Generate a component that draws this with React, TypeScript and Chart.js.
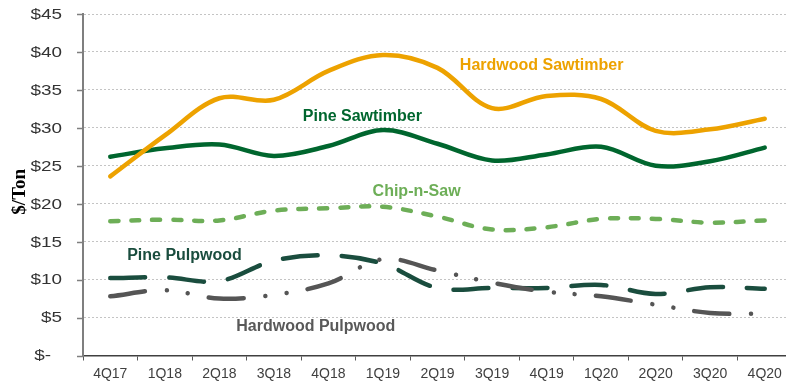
import React, { useEffect, useRef } from 'react';
import { Chart, registerables } from 'chart.js';

Chart.register(...registerables);

const categories = ['4Q17', '1Q18', '2Q18', '3Q18', '4Q18', '1Q19', '2Q19', '3Q19', '4Q19', '1Q20', '2Q20', '3Q20', '4Q20'];

const hardwoodSawtimber = [23.6, 29.0, 33.9, 33.7, 37.5, 39.6, 37.9, 32.6, 34.2, 33.8, 29.6, 29.8, 31.2];
const pineSawtimber = [26.2, 27.3, 27.8, 26.3, 27.6, 29.7, 27.9, 25.7, 26.5, 27.5, 25.0, 25.6, 27.4];
const chipNSaw = [17.7, 17.9, 17.8, 19.1, 19.4, 19.6, 18.3, 16.6, 16.9, 18.0, 18.0, 17.5, 17.8];
const pinePulpwood = [10.2, 10.3, 9.8, 12.5, 13.2, 12.1, 8.9, 8.9, 8.9, 9.3, 8.1, 9.0, 8.8];
const hardwoodPulpwood = [7.8, 8.6, 7.5, 8.0, 9.5, 12.7, 11.2, 9.6, 8.4, 7.8, 6.7, 5.6, 5.5];

const yTickValues = [0, 5, 10, 15, 20, 25, 30, 35, 40, 45];
const yTickLabels = ['$-', '$5', '$10', '$15', '$20', '$25', '$30', '$35', '$40', '$45'];
const yAxisTitle = '$/Ton';

const COLORS = {
  hardwoodSawtimber: '#EDA200',
  pineSawtimber: '#00662E',
  chipNSaw: '#6DAE57',
  pinePulpwood: '#1A4D3E',
  hardwoodPulpwood: '#555555',
};

// annotation labels, anchored in data units (category index, $ value)
const seriesLabels = [
  { text: 'Hardwood Sawtimber', color: COLORS.hardwoodSawtimber, at: 6.41, value: 38.26 },
  { text: 'Pine Sawtimber', color: COLORS.pineSawtimber, at: 3.53, value: 31.45 },
  { text: 'Chip-n-Saw', color: COLORS.chipNSaw, at: 4.81, value: 21.56 },
  { text: 'Pine Pulpwood', color: COLORS.pinePulpwood, at: 0.31, value: 13.19 },
  { text: 'Hardwood Pulpwood', color: '#595959', at: 2.31, value: 3.83 },
];

const overlayPlugin = {
  id: 'overlay',
  afterDraw(chart: any) {
    const { ctx, chartArea } = chart;
    const x = chart.scales.x;
    const y = chart.scales.y;
    ctx.save();
    // y tick marks
    ctx.strokeStyle = '#7F7F7F';
    ctx.lineWidth = 1.5;
    yTickValues.forEach((v) => {
      const py = Math.round(y.getPixelForValue(v)) + 0.5;
      ctx.beginPath();
      ctx.moveTo(chartArea.left - 6, py);
      ctx.lineTo(chartArea.left, py);
      ctx.stroke();
    });
    // y tick labels
    ctx.fillStyle = '#333333';
    ctx.font = '14px "Liberation Sans", Arial, sans-serif';
    ctx.textAlign = 'right';
    ctx.textBaseline = 'middle';
    yTickValues.forEach((v, i) => {
      const py = y.getPixelForValue(v);
      ctx.save();
      ctx.translate(chartArea.left - 21 - (v === 0 ? 11 : 0), py + 1);
      ctx.scale(1.35, 1);
      ctx.fillText(yTickLabels[i], 0, 0);
      ctx.restore();
    });
    // axis title
    ctx.save();
    ctx.font = 'bold 19px "Liberation Serif", "Times New Roman", serif';
    ctx.fillStyle = '#000000';
    ctx.textAlign = 'center';
    ctx.textBaseline = 'alphabetic';
    ctx.translate(25, (chartArea.top + chartArea.bottom) / 2 + 7);
    ctx.rotate(-Math.PI / 2);
    ctx.fillText(yAxisTitle, 0, 0);
    ctx.restore();
    // series labels
    const x0 = x.getPixelForValue(0);
    const step = x.getPixelForValue(1) - x0;
    ctx.font = 'bold 16px "Liberation Sans", Arial, sans-serif';
    ctx.textAlign = 'left';
    ctx.textBaseline = 'middle';
    seriesLabels.forEach((l) => {
      ctx.fillStyle = l.color;
      ctx.fillText(l.text, x0 + l.at * step, y.getPixelForValue(l.value));
    });
    ctx.restore();
  },
};

export default function App() {
  const ref = useRef<HTMLCanvasElement | null>(null);

  useEffect(() => {
    if (!ref.current) return;
    const common = {
      fill: false,
      pointRadius: 0,
      pointHoverRadius: 0,
      borderWidth: 4.5,
      tension: 0.35,
      borderCapStyle: 'round',
      borderJoinStyle: 'round',
    };
    const chart = new Chart(ref.current, {
      type: 'line',
      data: {
        labels: categories,
        datasets: [
          { ...common, label: 'Hardwood Sawtimber', data: hardwoodSawtimber, borderColor: COLORS.hardwoodSawtimber },
          { ...common, label: 'Pine Sawtimber', data: pineSawtimber, borderColor: COLORS.pineSawtimber },
          { ...common, label: 'Chip-n-Saw', data: chipNSaw, borderColor: COLORS.chipNSaw, borderDash: [8, 13] },
          { ...common, label: 'Hardwood Pulpwood', data: hardwoodPulpwood, borderColor: COLORS.hardwoodPulpwood, borderDash: [35, 22, 0.01, 21, 0.01, 21.5] },
          { ...common, label: 'Pine Pulpwood', data: pinePulpwood, borderColor: COLORS.pinePulpwood, borderDash: [35, 24] },
        ] as any,
      },
      options: {
        responsive: false,
        animation: false,
        events: [],
        layout: { padding: { top: 14, left: 0, right: 0, bottom: 0 } },
        plugins: { legend: { display: false }, tooltip: { enabled: false } },
        scales: {
          x: {
            type: 'category',
            offset: true,
            grid: {
              display: true,
              offset: true,
              drawOnChartArea: false,
              drawTicks: true,
              tickLength: 5,
              tickColor: '#595959',
              tickWidth: 1,
              color: '#595959',
            },
            border: { display: true, color: '#404040', width: 1.5 },
            ticks: {
              color: '#404040',
              font: { family: '"Liberation Sans", Arial, sans-serif', size: 14 },
              padding: 5,
              maxRotation: 0,
              autoSkip: false,
            },
            afterFit: (s: any) => {
              s.height = 30.5;
            },
          },
          y: {
            min: 0,
            max: 45,
            ticks: { stepSize: 5, display: false },
            grid: {
              display: true,
              drawTicks: false,
              color: '#C4C4C4',
              lineWidth: 1,
            },
            border: { display: true, color: '#7F7F7F', width: 2, dash: [2, 2] },
            afterFit: (s: any) => {
              s.width = 83;
            },
          },
        },
      } as any,
      plugins: [overlayPlugin],
    });
    return () => chart.destroy();
  }, []);

  return (
    <div style={{ position: 'fixed', left: 0, top: 0, width: 786, height: 386, overflow: 'hidden', background: '#ffffff' }}>
      <canvas ref={ref} width={792} height={386} style={{ display: 'block' }} />
    </div>
  );
}
